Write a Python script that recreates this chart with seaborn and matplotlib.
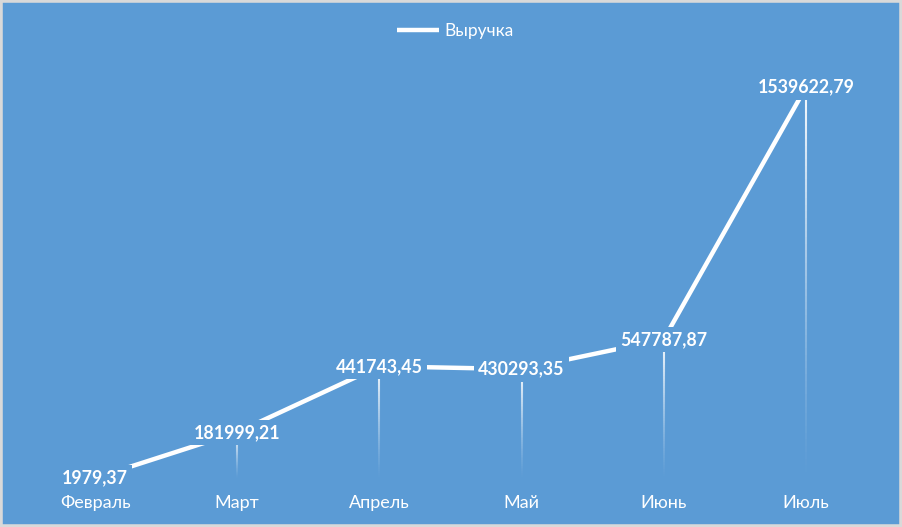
import numpy as np
import pandas as pd
import seaborn as sns
import matplotlib.pyplot as plt
from matplotlib.collections import LineCollection
from matplotlib.patches import Rectangle

# Data
months = ['Февраль', 'Март', 'Апрель', 'Май', 'Июнь', 'Июль']
revenue = [1979.37, 181999.21, 441743.45, 430293.35, 547787.87, 1539622.79]
series_name = 'Выручка'

bg = '#5B9BD5'

sns.set_theme(style='white')
plt.rcParams['font.family'] = ['Lato', 'DejaVu Sans']

df = pd.DataFrame({'month': months, 'value': revenue})
df['pos'] = np.arange(len(df))

fig = plt.figure(figsize=(9.02, 5.27), dpi=100, facecolor=bg)
ax = fig.add_axes([0.0266, 0.092, 0.9457, 0.868])
ax.set_facecolor(bg)

# fading drop lines from each point down to the axis
n = 60
segs, cols = [], []
for x, v in zip(df['pos'], df['value']):
    ys = np.linspace(v, 0, n + 1)
    for i in range(n):
        segs.append([(x, ys[i]), (x, ys[i + 1])])
        cols.append((1, 1, 1, 0.95 * (1 - i / n) ** 1.3))
ax.add_collection(LineCollection(segs, colors=cols, linewidths=1.5, zorder=1))

sns.lineplot(data=df, x='pos', y='value', ax=ax, color='white', linewidth=3.2,
             label=series_name, zorder=2, solid_capstyle='butt', legend=False)

for x, v in zip(df['pos'], df['value']):
    ax.text(x, v, f'{v:.2f}'.replace('.', ','), ha='center', va='center',
            color='white', fontsize=12.8, fontweight='bold', zorder=3,
            bbox=dict(facecolor=bg, edgecolor='none', pad=3))

ax.set_xlim(-0.5, len(months) - 0.5)
ax.set_ylim(0, 1800000)
ax.set_xticks(df['pos'])
ax.set_xticklabels(months, color='white', fontsize=13)
ax.tick_params(axis='x', length=0, pad=12)
ax.set_yticks([])
ax.set_xlabel('')
ax.set_ylabel('')
for s in ax.spines.values():
    s.set_visible(False)

handles = ax.get_lines()[:1]
fig.legend(handles, [series_name], loc='center', bbox_to_anchor=(0.505, 1 - 31 / 527),
           frameon=False, fontsize=12.5, handlelength=2.4, handletextpad=0.3,
           labelcolor='white')

fig.patches.append(Rectangle((0, 0), 1, 1, transform=fig.transFigure, fill=False,
                             edgecolor='#D9D9D9', linewidth=4))

fig.savefig('out.png', dpi=100, facecolor=bg)
